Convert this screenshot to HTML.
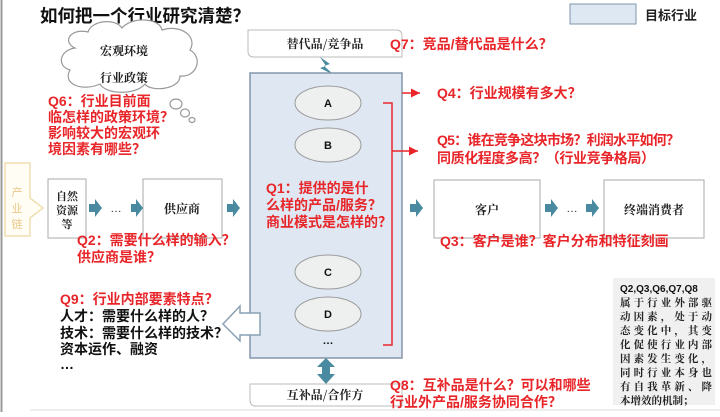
<!DOCTYPE html>
<html><head><meta charset="utf-8"><style>
body{margin:0;width:720px;height:412px;overflow:hidden;background:#fff}
.r{fill:#e8262a;font-weight:bold;font-size:14px;font-family:"Liberation Sans","Noto Sans CJK SC",sans-serif}
.k{fill:#111;font-weight:bold;font-size:14px;font-family:"Liberation Sans","Noto Sans CJK SC",sans-serif}
.s{font-family:"Noto Serif CJK SC","Liberation Serif",serif;fill:#222;font-size:11px}
</style></head><body>
<svg width="720" height="412" viewBox="0 0 720 412" xmlns="http://www.w3.org/2000/svg">
<defs>
<marker id="ar" markerWidth="8" markerHeight="8" refX="6" refY="3" orient="auto"><path d="M0,0 L6,3 L0,6z" fill="#e8262a"/></marker>
</defs>
<line x1="1.5" y1="0" x2="1.5" y2="412" stroke="#999" stroke-width="2"/>
<line x1="30" y1="410" x2="720" y2="410" stroke="#ddd" stroke-width="1"/>
<text x="40" y="22" class="k" style="font-size:17.5px">如何把一个行业研究清楚？</text>
<rect x="570" y="4" width="66" height="20" fill="#dde8f3" stroke="#8296a8"/>
<text x="645" y="20" class="k" style="font-size:13px;fill:#222">目标行业</text>
<g fill="#fff" stroke="#999" stroke-width="1.2">
<path d="M75,48 C62,42 70,28 88,32 C92,20 115,18 122,28 C132,16 160,18 162,30 C180,24 198,36 190,50 C204,58 196,78 180,76 C180,90 150,92 145,84 C135,96 105,94 100,84 C82,92 62,84 70,70 C56,66 60,50 75,48Z"/>
<ellipse cx="176" cy="104" rx="6" ry="5"/><ellipse cx="185" cy="113" rx="4.5" ry="4"/><ellipse cx="192" cy="120" rx="3" ry="2.5"/>
</g>
<text x="100" y="55" class="s" font-weight="bold" style="font-size:12px">宏观环境</text>
<text x="100" y="82" class="s" font-weight="bold" style="font-size:12px">行业政策</text>
<text x="48" y="106" class="r">Q6：行业目前面</text>
<text x="48" y="122" class="r">临怎样的政策环境？</text>
<text x="48" y="138" class="r">影响较大的宏观环</text>
<text x="48" y="154" class="r">境因素有哪些？</text>
<path d="M248,30 H396 Q402,30 402,36 V57 H254 Q248,57 248,51Z" fill="#fff" stroke="#bbb"/>
<text x="325" y="48" class="s" font-weight="bold" text-anchor="middle" style="font-size:12px">替代品/竞争品</text>
<path d="M320,57 L330,64 L324,66 L334,75 L320,68 L326,66Z" fill="#4a8aa0"/>
<rect x="250" y="73" width="152" height="285" fill="#dfe8f2" stroke="#8496ab" stroke-width="1.5"/>
<g fill="#eef0f0" stroke="#999">
<ellipse cx="328" cy="103" rx="33" ry="17"/><ellipse cx="328" cy="145" rx="33" ry="17"/>
<ellipse cx="328" cy="272" rx="33" ry="17"/><ellipse cx="328" cy="314" rx="33" ry="17"/>
</g>
<g class="k" style="font-size:11px" fill="#222" text-anchor="middle">
<text x="328" y="107">A</text><text x="328" y="149">B</text><text x="328" y="276">C</text><text x="328" y="318">D</text><text x="328" y="344">…</text>
</g>
<text x="266" y="193" class="r">Q1：提供的是什</text>
<text x="266" y="210" class="r">么样的产品/服务？</text>
<text x="266" y="227" class="r">商业模式是怎样的？</text>
<path d="M326,358 L335,367 L330,367 L330,374 L335,374 L326,384 L317,374 L322,374 L322,367 L317,367Z" fill="#4a8aa0"/>
<path d="M250,384 H402 V406 H256 Q250,406 250,400Z" fill="#fff" stroke="#bbb"/>
<text x="325" y="399" class="s" font-weight="bold" text-anchor="middle" style="font-size:12px">互补品/合作方</text>
<path d="M383,103 H392 V345 H383" fill="none" stroke="#e8262a" stroke-width="1.5"/>
<line x1="392" y1="151" x2="418" y2="151" stroke="#e8262a" stroke-width="1.5" marker-end="url(#ar)"/>
<line x1="402" y1="93" x2="420" y2="93" stroke="#e8262a" stroke-width="1.5" marker-end="url(#ar)"/>
<text x="390" y="49" class="r">Q7：竞品/替代品是什么？</text>
<text x="437" y="98" class="r">Q4：行业规模有多大？</text>
<text x="437" y="145" class="r" textLength="243">Q5：谁在竞争这块市场？利润水平如何？</text>
<text x="437" y="163" class="r" textLength="218">同质化程度多高？（行业竞争格局）</text>
<path d="M5,163 H30 V198 L43,208 L30,218 V236 H5Z" fill="#fffdf4" stroke="#f0deb0" stroke-width="1.5"/>
<text x="17" y="196" text-anchor="middle" style="font-size:11px" fill="#e9c88a" font-family="Noto Sans CJK SC">产</text>
<text x="17" y="212" text-anchor="middle" style="font-size:11px" fill="#e9c88a" font-family="Noto Sans CJK SC">业</text>
<text x="17" y="228" text-anchor="middle" style="font-size:11px" fill="#e9c88a" font-family="Noto Sans CJK SC">链</text>
<rect x="48" y="179" width="38" height="59" fill="#fff" stroke="#aaa"/>
<text x="67" y="200" class="s" font-weight="bold" text-anchor="middle">自然</text>
<text x="67" y="214" class="s" font-weight="bold" text-anchor="middle">资源</text>
<text x="67" y="228" class="s" font-weight="bold" text-anchor="middle">等</text>
<rect x="143" y="179" width="79" height="59" fill="#fff" stroke="#aaa"/>
<text x="182" y="213" class="s" font-weight="bold" text-anchor="middle" style="font-size:12px">供应商</text>
<rect x="434" y="180" width="106" height="58" fill="#fff" stroke="#aaa"/>
<text x="487" y="214" class="s" font-weight="bold" text-anchor="middle" style="font-size:12px">客户</text>
<rect x="604" y="180" width="100" height="58" fill="#fff" stroke="#aaa"/>
<text x="654" y="214" class="s" font-weight="bold" text-anchor="middle" style="font-size:12px">终端消费者</text>
<g fill="#4a8aa0">
<path d="M89,204 h6 v-5 l7,9 l-7,9 v-5 h-6z"/>
<path d="M131,204 h5 v-5 l7,9 l-7,9 v-5 h-5z"/>
<path d="M227,204 h6 v-5 l7,9 l-7,9 v-5 h-6z"/>
<path d="M410,204 h6 v-5 l7,9 l-7,9 v-5 h-6z"/>
<path d="M545,204 h6 v-5 l7,9 l-7,9 v-5 h-6z"/>
<path d="M586,204 h6 v-5 l7,9 l-7,9 v-5 h-6z"/>
</g>
<text x="116" y="212" text-anchor="middle" style="font-size:11px" fill="#333">…</text>
<text x="572" y="212" text-anchor="middle" style="font-size:11px" fill="#333">…</text>
<text x="77" y="245" class="r">Q2：需要什么样的输入？</text>
<text x="77" y="262" class="r">供应商是谁？</text>
<text x="440" y="246" class="r">Q3：客户是谁？客户分布和特征刻画</text>
<path d="M260,313 H240 V306 L223,324 L240,341 V335 H260Z" fill="#fff" stroke="#8aa0b4" stroke-width="1.5"/>
<text x="60" y="304" class="r">Q9：行业内部要素特点？</text>
<text x="60" y="321" class="k">人才：需要什么样的人？</text>
<text x="60" y="338" class="k">技术：需要什么样的技术？</text>
<text x="60" y="354" class="k">资本运作、融资</text>
<text x="60" y="369" class="k">…</text>
<text x="390" y="390" class="r">Q8：互补品是什么？可以和哪些</text>
<text x="390" y="407" class="r">行业外产品/服务协同合作？</text>
<rect x="613" y="278" width="102" height="127" fill="#f0f0f0"/>
<g class="s" font-weight="bold" style="font-size:10.5px">
<text x="620" y="292" class="k" style="font-size:10px">Q2,Q3,Q6,Q7,Q8</text>
<text x="620" y="306" textLength="92">属于行业外部驱</text>
<text x="620" y="320" textLength="92">动因素，处于动</text>
<text x="620" y="334" textLength="92">态变化中，其变</text>
<text x="620" y="348" textLength="92">化促使行业内部</text>
<text x="620" y="362" textLength="92">因素发生变化，</text>
<text x="620" y="376" textLength="92">同时行业本身也</text>
<text x="620" y="390" textLength="92">有自我革新、降</text>
<text x="620" y="404">本增效的机制；</text>
</g>
</svg>
</body></html>
